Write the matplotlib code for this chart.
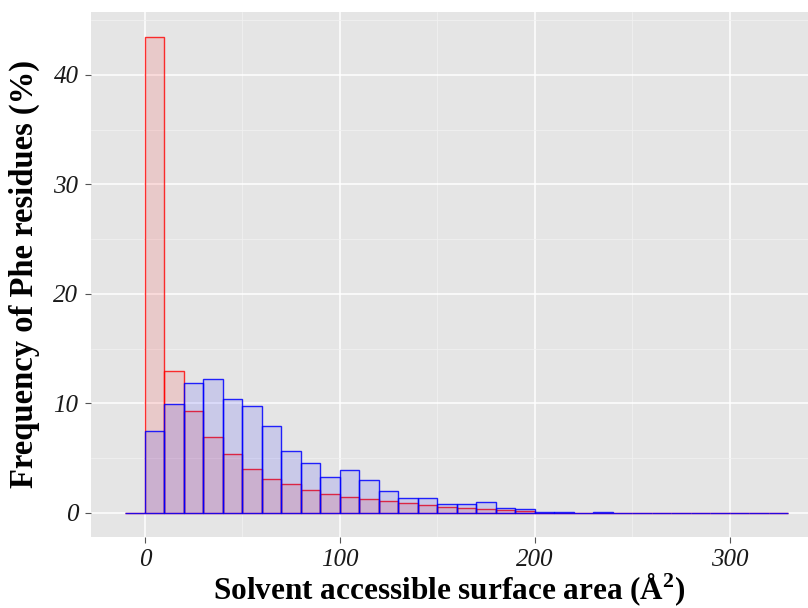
import numpy as np
import matplotlib
matplotlib.use("Agg")
from matplotlib import pyplot as plt

plt.rcParams['font.family'] = 'Liberation Serif'
plt.rcParams['mathtext.fontset'] = 'custom'
plt.rcParams['mathtext.rm'] = 'Liberation Serif'
plt.rcParams['mathtext.bf'] = 'Liberation Serif:bold'

# histogram bins of width 10, starting at -10
bin_width = 10
bin_left = np.arange(-10, 330, bin_width)

red_freq = [0, 43.5, 13.0, 9.3, 6.95, 5.4, 4.05, 3.14, 2.67, 2.08, 1.77,
            1.49, 1.28, 1.13, 0.88, 0.70, 0.58, 0.46, 0.34, 0.25, 0.16, 0.03]
blue_freq = [0, 7.52, 9.95, 11.9, 12.2, 10.44, 9.77, 7.9, 5.65, 4.6, 3.3,
             3.93, 2.98, 2.0, 1.34, 1.40, 0.79, 0.79, 1.03, 0.48, 0.34, 0.06,
             0.06, 0, 0.06]

red_freq = red_freq + [0] * (len(bin_left) - len(red_freq))
blue_freq = blue_freq + [0] * (len(bin_left) - len(blue_freq))

fig = plt.figure(figsize=(8.08, 6.08), dpi=100)
ax = fig.add_axes([0.1126, 0.1168, 0.8874, 0.8635])
ax.set_facecolor('#E5E5E5')

ax.bar(bin_left, red_freq, width=bin_width, align='edge',
       color=(1, 0, 0, 0.12), edgecolor=(1, 0, 0, 0.8), linewidth=1, zorder=3)
ax.bar(bin_left, blue_freq, width=bin_width, align='edge',
       color=(0, 0, 1, 0.12), edgecolor=(0, 0, 1, 0.85), linewidth=1, zorder=4)

ax.set_xlim(-27.7, 340)
ax.set_ylim(-2.2, 45.75)

ax.set_xticks([0, 100, 200, 300])
ax.set_xticks([50, 150, 250], minor=True)
ax.set_yticks([0, 10, 20, 30, 40])
ax.set_yticks([5, 15, 25, 35, 45], minor=True)
ax.grid(which='major', color='white', linewidth=1.1, zorder=0)
ax.grid(which='minor', color='#F2F2F2', linewidth=0.5, zorder=0)
ax.set_axisbelow(True)

for s in ax.spines.values():
    s.set_visible(False)

ax.tick_params(which='major', length=4, color='#555555', labelsize=18,
               labelcolor='#1a1a1a', pad=5)
ax.tick_params(which='minor', length=0)
for lab in ax.get_xticklabels() + ax.get_yticklabels():
    lab.set_fontstyle('italic')

ax.set_ylabel('Frequency of Phe residues (%)', fontsize=23.5, fontweight='bold',
              labelpad=10)
ax.set_xlabel(r'Solvent accessible surface area (Å$^\mathbf{2}$)', fontsize=22.5,
              fontweight='bold', labelpad=0)

fig.savefig('out.png', dpi=100)
